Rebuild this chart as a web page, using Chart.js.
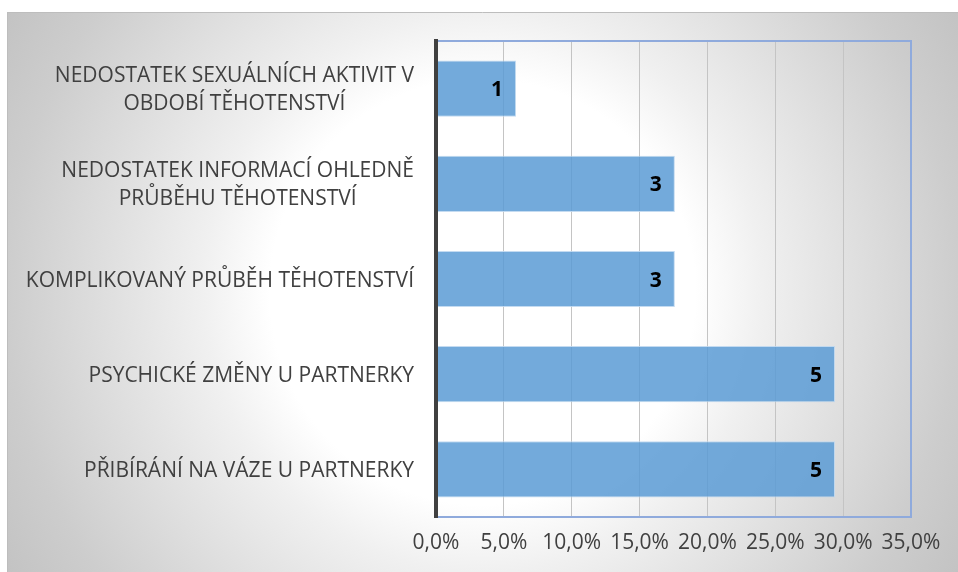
<!DOCTYPE html>
<html>
<head>
<meta charset="utf-8">
<script src="https://cdn.jsdelivr.net/npm/chart.js@4/dist/chart.umd.min.js"></script>
<style>
  html, body { margin: 0; padding: 0; background: #ffffff; }
  canvas { display: block; }
</style>
</head>
<body>
<canvas id="c" width="958" height="572"></canvas>
<script>
// ---- data ----
const categories = [
  ["NEDOSTATEK SEXUÁLNÍCH AKTIVIT V", "OBDOBÍ TĚHOTENSTVÍ"],
  ["NEDOSTATEK INFORMACÍ OHLEDNĚ", "PRŮBĚHU TĚHOTENSTVÍ"],
  ["KOMPLIKOVANÝ PRŮBĚH TĚHOTENSTVÍ"],
  ["PSYCHICKÉ ZMĚNY U PARTNERKY"],
  ["PŘIBÍRÁNÍ NA VÁZE U PARTNERKY"]
];
const percentValues = [5.9, 17.6, 17.6, 29.4, 29.4];
const countLabels = ["1", "3", "3", "5", "5"];
const xTickLabels = ["0,0%", "5,0%", "10,0%", "15,0%", "20,0%", "25,0%", "30,0%", "35,0%"];

const FONT = "'Open Sans', 'Noto Sans', sans-serif";
const TEXT_COLOR = '#404040';
const FRAME_BLUE = '#8faadc';

const backgroundPlugin = {
  id: 'bg',
  beforeDraw(chart) {
    const ctx = chart.ctx;
    ctx.save();
    const x0 = 7, y0 = 12, x1 = chart.width, y1 = chart.height;
    const cx = (x0 + x1) / 2, cy = (y0 + y1) / 2;
    const g = ctx.createRadialGradient(cx, cy, 0, cx, cy, 560);
    g.addColorStop(0, '#ffffff');
    g.addColorStop(0.38, '#ffffff');
    g.addColorStop(0.5, '#f0f0f0');
    g.addColorStop(0.85, '#cdcdcd');
    g.addColorStop(1, '#c2c2c2');
    ctx.fillStyle = g;
    ctx.fillRect(x0, y0, x1 - x0, y1 - y0);
    ctx.strokeStyle = '#bdbdbd';
    ctx.lineWidth = 1;
    ctx.beginPath();
    ctx.moveTo(x0, y0 + 0.5); ctx.lineTo(x1, y0 + 0.5);
    ctx.moveTo(x0 + 0.5, y0); ctx.lineTo(x0 + 0.5, y1);
    ctx.stroke();
    ctx.restore();
  },
  beforeDatasetsDraw(chart) {
    const { ctx, chartArea: a } = chart;
    ctx.save();
    ctx.strokeStyle = FRAME_BLUE;
    ctx.lineWidth = 2;
    ctx.beginPath();
    ctx.moveTo(a.left, a.top);
    ctx.lineTo(a.right, a.top);
    ctx.lineTo(a.right, a.bottom);
    ctx.lineTo(a.left, a.bottom);
    ctx.stroke();
    ctx.restore();
  },
  afterDraw(chart) {
    const ctx = chart.ctx;
    const yScale = chart.scales.y;
    ctx.save();
    // category labels: block right-aligned, lines centered
    ctx.font = '21px ' + FONT;
    ctx.fillStyle = TEXT_COLOR;
    ctx.textAlign = 'center';
    ctx.textBaseline = 'alphabetic';
    const rightEdge = chart.chartArea.left - 22;
    const lh = 28;
    categories.forEach((lines, i) => {
      const yc = yScale.getPixelForValue(i);
      const widest = Math.max(...lines.map(l => ctx.measureText(l).width));
      const xc = rightEdge - widest / 2;
      lines.forEach((l, j) => {
        const y = yc + (j - (lines.length - 1) / 2) * lh + 7.5;
        ctx.fillText(l, xc, y);
      });
    });
    // data labels
    ctx.font = 'bold 21px ' + FONT;
    ctx.fillStyle = '#000000';
    const meta = chart.getDatasetMeta(0);
    meta.data.forEach((bar, i) => {
      ctx.fillText(countLabels[i], bar.x - 19, bar.y + 7.5);
    });
    ctx.restore();
  }
};

new Chart(document.getElementById('c'), {
  type: 'bar',
  data: {
    labels: categories,
    datasets: [{
      data: percentValues,
      backgroundColor: 'rgba(91,155,213,0.85)',
      borderColor: 'rgba(190,215,240,0.9)',
      borderWidth: 1,
      borderSkipped: false,
      categoryPercentage: 1,
      barPercentage: 0.59
    }]
  },
  options: {
    indexAxis: 'y',
    responsive: false,
    animation: false,
    devicePixelRatio: 1,
    layout: { padding: { left: 0, top: 41, right: 47, bottom: 0 } },
    plugins: { legend: { display: false }, tooltip: { enabled: false } },
    scales: {
      x: {
        min: 0, max: 35,
        afterFit(s) { s.height = 55; },
        ticks: {
          stepSize: 5,
          color: TEXT_COLOR,
          font: { family: FONT, size: 21 },
          padding: 13,
          maxRotation: 0,
          autoSkip: false,
          callback: (v, i) => xTickLabels[i]
        },
        grid: {
          drawTicks: false,
          color: (c) => (c.index === 0 || c.index === xTickLabels.length - 1) ? 'rgba(0,0,0,0)' : '#c4c4c4',
          lineWidth: 1
        },
        border: { display: false }
      },
      y: {
        afterFit(s) { s.width = 436; },
        ticks: { display: false },
        grid: { display: false, drawTicks: false },
        border: { display: true, color: '#404040', width: 4, z: 1 }
      }
    }
  },
  plugins: [backgroundPlugin]
});
</script>
</body>
</html>
